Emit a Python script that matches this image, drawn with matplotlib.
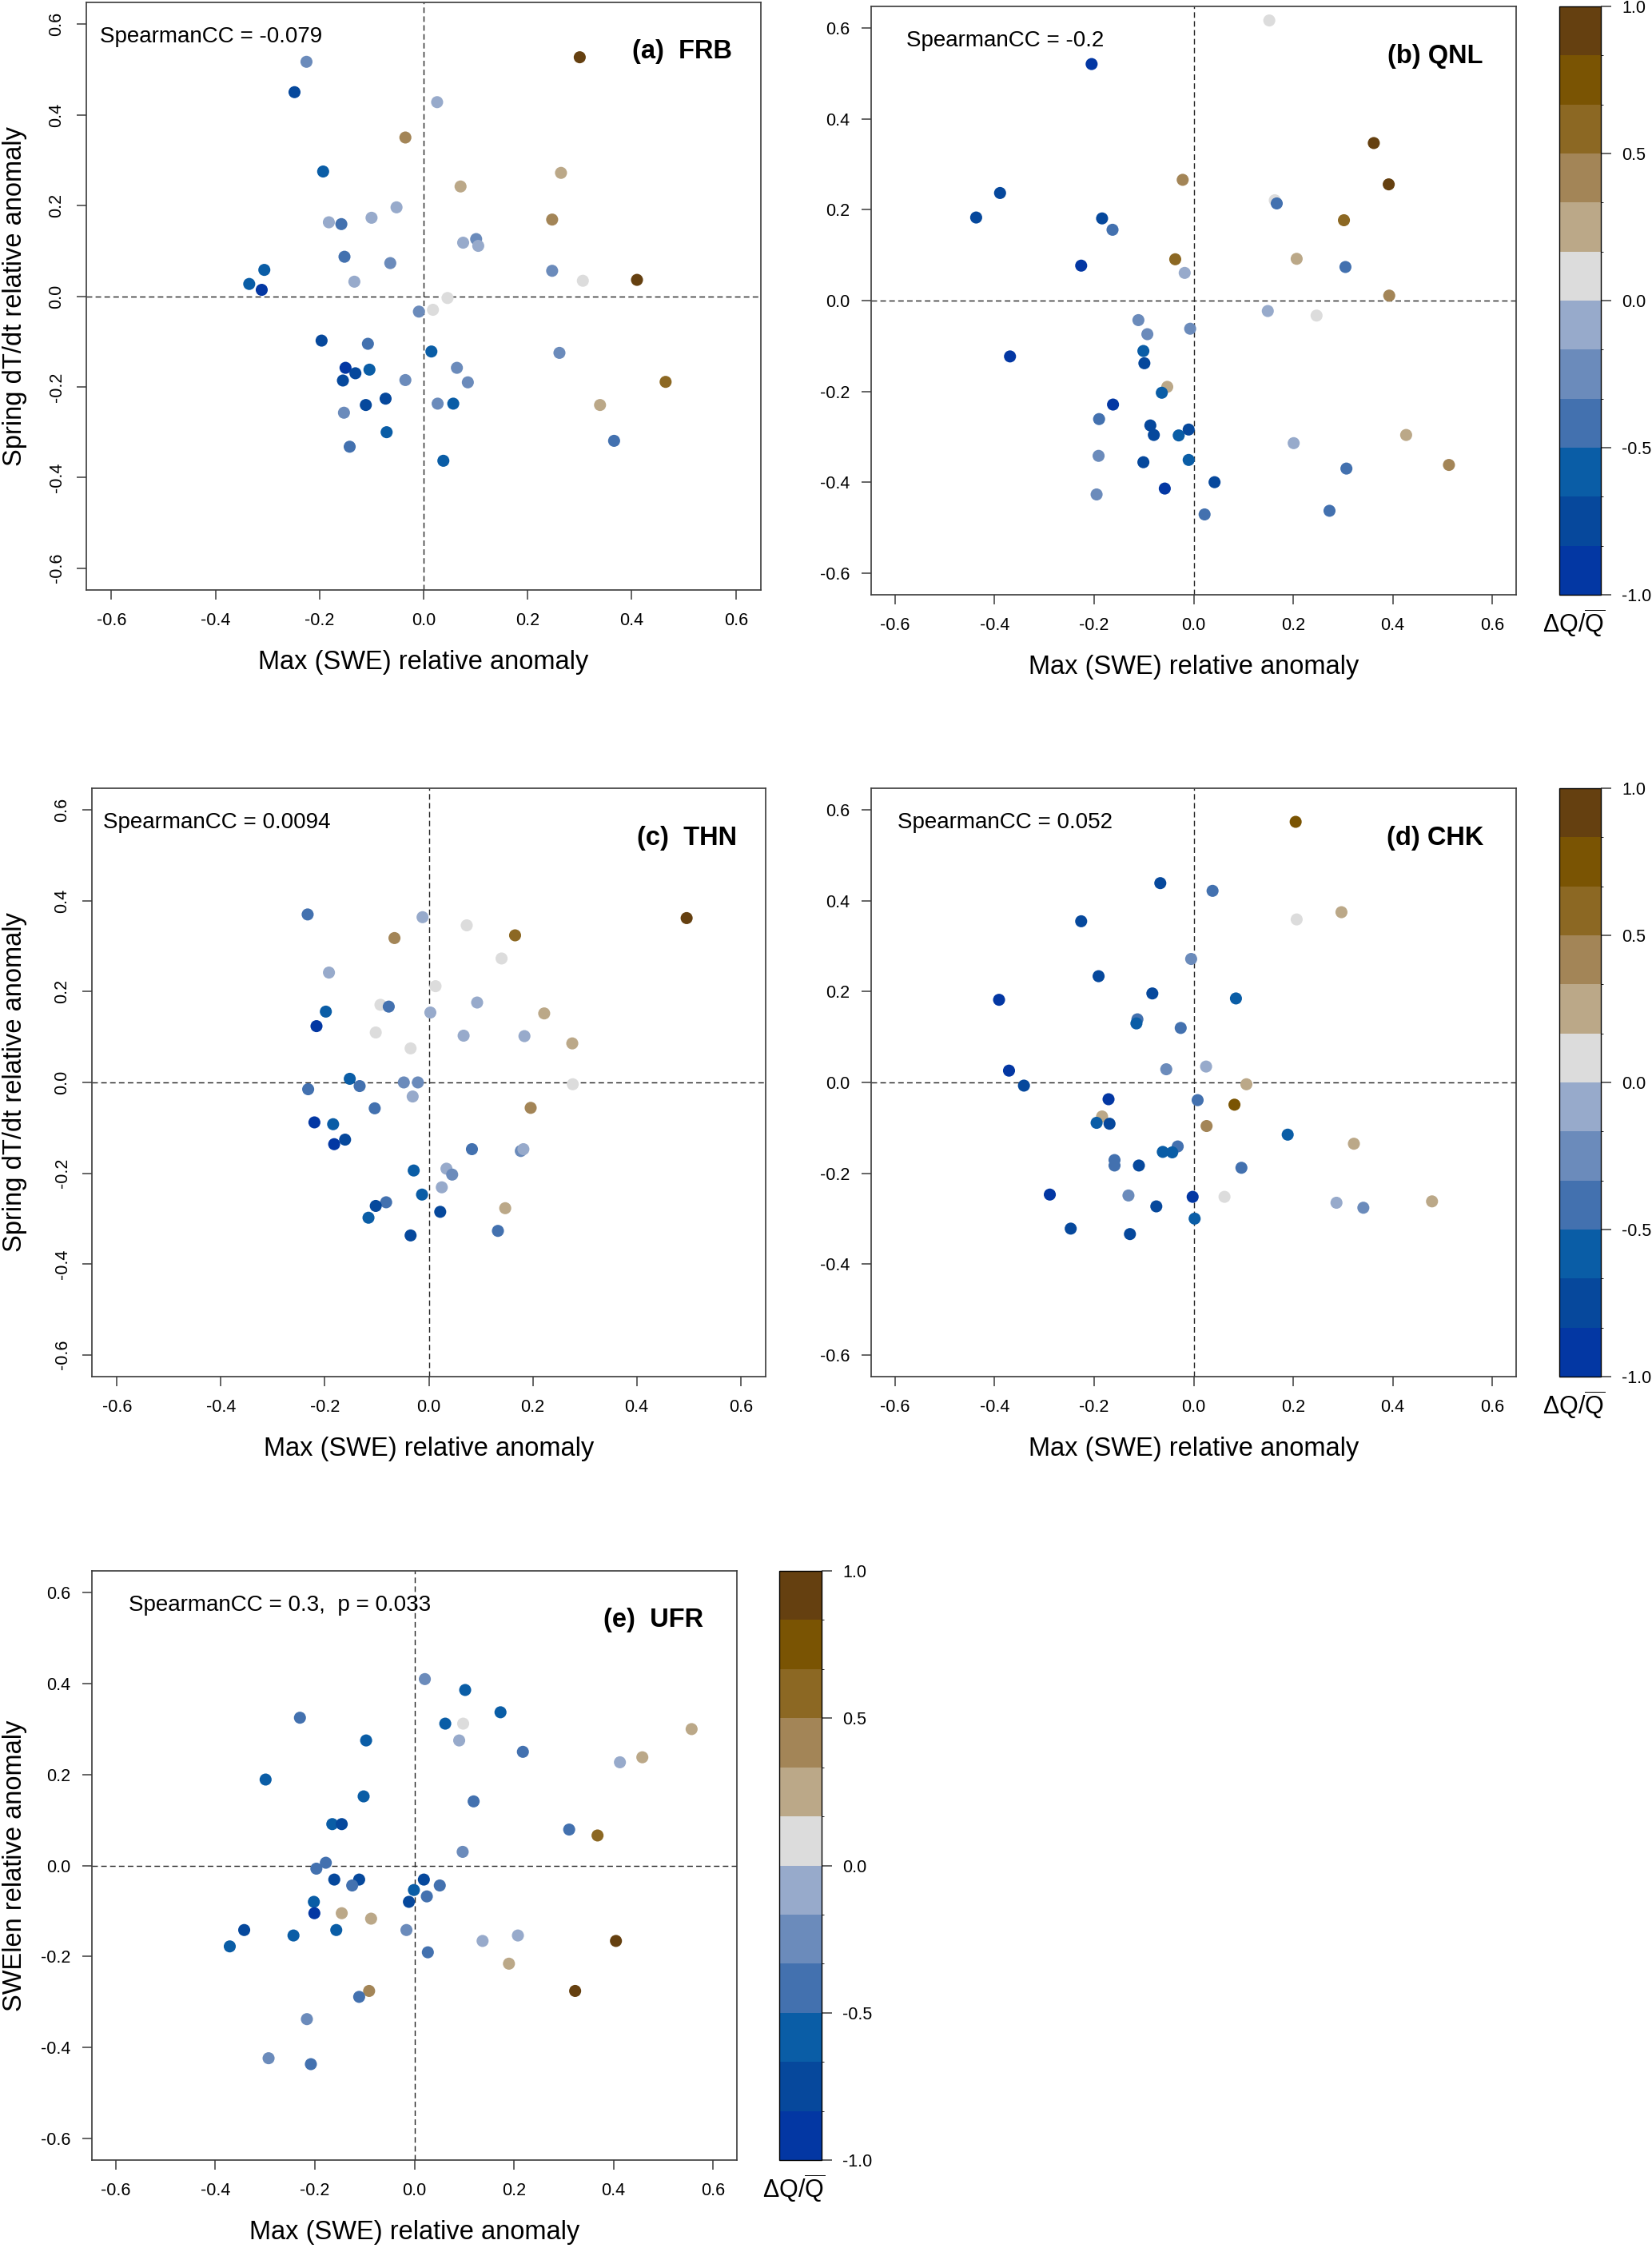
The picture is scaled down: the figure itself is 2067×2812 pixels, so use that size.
import numpy as np
import matplotlib
matplotlib.use('Agg')
import matplotlib.pyplot as plt
from matplotlib.colors import ListedColormap, BoundaryNorm
from matplotlib.cm import ScalarMappable

plt.rcParams['font.family'] = ['Liberation Sans', 'DejaVu Sans']
plt.rcParams['mathtext.fontset'] = 'custom'
plt.rcParams['mathtext.rm'] = 'Liberation Sans'
plt.rcParams['mathtext.it'] = 'Liberation Sans:italic'

# ---- colour scale (12 classes, -1 .. 1) ----
cb_colors = ['#0337A3', '#06489C', '#0A5DA6', '#4371AF', '#6B8BBB', '#97AACB',
             '#DCDCDC', '#BBA888', '#A38557', '#8C6823', '#7A5403', '#654010']
cb_bounds = np.linspace(-1, 1, 13)
cb_ticks = [-1.0, -0.5, 0.0, 0.5, 1.0]
cb_ticklabels = ['-1.0', '-0.5', '0.0', '0.5', '1.0']
axis_ticks = [-0.6, -0.4, -0.2, 0.0, 0.2, 0.4, 0.6]
axis_ticklabels = ['-0.6', '-0.4', '-0.2', '0.0', '0.2', '0.4', '0.6']

# ---- (a) FRB ----
swe_a = [-0.225, -0.248, 0.300, 0.026, -0.035, -0.193, 0.264, 0.071, -0.052, -0.182,
         -0.158, -0.100, 0.247, 0.076, 0.101, 0.105, -0.152, -0.064, -0.306, -0.335,
         -0.311, -0.133, 0.247, 0.306, 0.410, 0.046, 0.018, -0.009, -0.196, -0.107,
         0.015, 0.261, -0.150, -0.131, -0.104, -0.155, -0.035, 0.064, 0.085, 0.465,
         -0.073, -0.111, 0.027, 0.057, 0.339, -0.153, -0.071, -0.142, 0.366, 0.038]
dtdt_a = [0.517, 0.450, 0.527, 0.428, 0.350, 0.275, 0.272, 0.242, 0.196, 0.163,
          0.159, 0.173, 0.169, 0.118, 0.126, 0.111, 0.087, 0.073, 0.058, 0.027,
          0.014, 0.032, 0.056, 0.034, 0.036, -0.004, -0.030, -0.034, -0.098, -0.105,
          -0.122, -0.125, -0.158, -0.170, -0.162, -0.186, -0.185, -0.158, -0.190, -0.189,
          -0.226, -0.240, -0.237, -0.237, -0.240, -0.257, -0.300, -0.332, -0.319, -0.363]
dq_a = [-0.25, -0.75, 0.92, -0.08, 0.42, -0.58, 0.25, 0.25, -0.08, -0.08,
        -0.42, -0.08, 0.42, -0.08, -0.25, -0.08, -0.42, -0.25, -0.58, -0.58,
        -0.92, -0.08, -0.25, 0.08, 0.92, 0.08, 0.08, -0.25, -0.75, -0.42,
        -0.58, -0.25, -0.92, -0.75, -0.58, -0.75, -0.25, -0.25, -0.25, 0.58,
        -0.75, -0.75, -0.25, -0.58, 0.25, -0.25, -0.58, -0.42, -0.42, -0.58]

# ---- (b) QNL ----
swe_b = [0.152, -0.205, 0.362, 0.392, -0.022, -0.389, -0.437, -0.184, -0.163, 0.163,
         0.167, 0.302, -0.226, -0.037, -0.018, 0.207, 0.305, 0.393, 0.149, 0.247,
         -0.111, -0.093, -0.007, -0.369, -0.101, -0.099, -0.053, -0.064, -0.162, -0.190,
         -0.087, -0.080, -0.030, -0.010, 0.201, 0.427, -0.191, -0.101, -0.010, 0.307,
         0.513, 0.042, -0.058, -0.195, 0.022, 0.273]
dtdt_b = [0.617, 0.521, 0.347, 0.256, 0.266, 0.237, 0.183, 0.181, 0.156, 0.221,
          0.214, 0.177, 0.077, 0.091, 0.061, 0.092, 0.074, 0.011, -0.023, -0.033,
          -0.043, -0.074, -0.062, -0.123, -0.111, -0.138, -0.190, -0.203, -0.229, -0.261,
          -0.275, -0.296, -0.297, -0.284, -0.314, -0.296, -0.342, -0.356, -0.351, -0.370,
          -0.362, -0.400, -0.414, -0.427, -0.471, -0.463]
dq_b = [0.08, -0.92, 0.92, 0.92, 0.42, -0.75, -0.75, -0.75, -0.42, 0.08,
        -0.42, 0.58, -0.92, 0.58, -0.08, 0.25, -0.42, 0.42, -0.08, 0.08,
        -0.25, -0.25, -0.25, -0.92, -0.58, -0.75, 0.25, -0.58, -0.92, -0.42,
        -0.75, -0.75, -0.58, -0.75, -0.08, 0.25, -0.25, -0.75, -0.58, -0.42,
        0.42, -0.75, -0.92, -0.25, -0.42, -0.42]

# ---- (c) THN ----
swe_c = [-0.233, -0.012, 0.073, -0.066, 0.166, 0.496, 0.140, -0.192, 0.013, -0.093,
         -0.077, 0.093, 0.003, -0.198, -0.216, 0.222, -0.102, 0.067, 0.184, 0.276,
         -0.035, -0.152, -0.133, -0.232, -0.048, -0.021, -0.031, 0.277, -0.104, 0.196,
         -0.220, -0.184, -0.161, -0.182, 0.083, 0.177, 0.182, -0.029, 0.034, 0.045,
         0.025, -0.013, -0.082, -0.102, -0.116, 0.022, 0.147, -0.035, 0.133]
dtdt_c = [0.370, 0.364, 0.346, 0.318, 0.324, 0.362, 0.273, 0.242, 0.212, 0.171,
          0.167, 0.176, 0.154, 0.156, 0.124, 0.152, 0.110, 0.103, 0.102, 0.086,
          0.075, 0.008, -0.008, -0.015, 0.000, 0.000, -0.031, -0.004, -0.057, -0.056,
          -0.088, -0.092, -0.126, -0.136, -0.147, -0.151, -0.147, -0.194, -0.190, -0.203,
          -0.231, -0.247, -0.264, -0.272, -0.298, -0.285, -0.277, -0.337, -0.327]
dq_c = [-0.42, -0.08, 0.08, 0.42, 0.58, 0.92, 0.08, -0.08, 0.08, 0.08,
        -0.42, -0.08, -0.08, -0.58, -0.92, 0.25, 0.08, -0.08, -0.08, 0.25,
        0.08, -0.58, -0.42, -0.42, -0.25, -0.25, -0.08, 0.08, -0.42, 0.42,
        -0.92, -0.58, -0.75, -0.92, -0.42, -0.25, -0.08, -0.58, -0.08, -0.25,
        -0.08, -0.58, -0.42, -0.75, -0.58, -0.75, 0.25, -0.75, -0.42]

# ---- (d) CHK ----
swe_d = [0.205, -0.067, 0.038, -0.226, 0.297, 0.207, -0.005, -0.191, -0.391, -0.083,
         0.085, -0.113, -0.115, -0.026, -0.055, 0.025, -0.371, -0.341, 0.106, -0.171,
         0.008, 0.082, -0.184, -0.195, -0.169, 0.026, 0.189, 0.322, -0.032, -0.062,
         -0.043, -0.159, -0.159, -0.110, 0.096, -0.289, -0.131, -0.002, 0.062, -0.075,
         0.287, 0.341, 0.479, 0.002, -0.247, -0.128]
dtdt_d = [0.574, 0.439, 0.422, 0.355, 0.375, 0.359, 0.272, 0.234, 0.182, 0.196,
          0.185, 0.139, 0.130, 0.120, 0.029, 0.035, 0.026, -0.007, -0.004, -0.037,
          -0.039, -0.049, -0.075, -0.089, -0.091, -0.096, -0.115, -0.135, -0.141, -0.153,
          -0.154, -0.171, -0.183, -0.183, -0.188, -0.247, -0.249, -0.252, -0.252, -0.273,
          -0.265, -0.276, -0.262, -0.300, -0.322, -0.334]
dq_d = [0.75, -0.75, -0.42, -0.75, 0.25, 0.08, -0.25, -0.75, -0.92, -0.75,
        -0.58, -0.42, -0.58, -0.42, -0.25, -0.08, -0.92, -0.75, 0.25, -0.92,
        -0.42, 0.75, 0.25, -0.58, -0.75, 0.42, -0.58, 0.25, -0.42, -0.58,
        -0.58, -0.42, -0.42, -0.75, -0.42, -0.92, -0.25, -0.92, 0.08, -0.75,
        -0.08, -0.25, 0.25, -0.58, -0.75, -0.75]

# ---- (e) UFR ----
swe_e = [0.021, 0.102, -0.230, 0.173, 0.062, 0.098, -0.097, 0.090, 0.557, 0.218,
         0.458, 0.413, -0.299, -0.102, 0.119, -0.165, -0.146, 0.311, 0.368, 0.097,
         -0.178, -0.197, -0.161, -0.111, -0.125, 0.019, 0.051, -0.001, 0.025, -0.011,
         -0.202, -0.201, -0.146, -0.087, -0.342, -0.157, -0.016, -0.243, -0.371, 0.137,
         0.208, 0.405, 0.027, 0.190, -0.091, -0.111, 0.323, -0.216, -0.293, -0.208]
swelen_e = [0.410, 0.386, 0.325, 0.337, 0.312, 0.312, 0.275, 0.275, 0.300, 0.250,
            0.238, 0.227, 0.189, 0.152, 0.141, 0.091, 0.091, 0.079, 0.066, 0.030,
            0.006, -0.007, -0.031, -0.031, -0.044, -0.031, -0.044, -0.054, -0.068, -0.080,
            -0.080, -0.105, -0.105, -0.117, -0.142, -0.142, -0.142, -0.154, -0.178, -0.166,
            -0.154, -0.166, -0.191, -0.216, -0.276, -0.289, -0.276, -0.338, -0.424, -0.437]
dq_e = [-0.25, -0.58, -0.42, -0.58, -0.58, 0.08, -0.58, -0.08, 0.25, -0.42,
        0.25, -0.08, -0.58, -0.58, -0.42, -0.58, -0.75, -0.42, 0.58, -0.25,
        -0.42, -0.42, -0.75, -0.75, -0.42, -0.75, -0.42, -0.58, -0.42, -0.75,
        -0.58, -0.92, 0.25, 0.25, -0.75, -0.58, -0.25, -0.58, -0.58, -0.08,
        -0.08, 0.92, -0.42, 0.25, 0.42, -0.42, 0.92, -0.25, -0.25, -0.42]

W, H = 2067, 2812
fig = plt.figure(figsize=(W / 100, H / 100), dpi=100)
cmap = ListedColormap(cb_colors)
norm = BoundaryNorm(cb_bounds, cmap.N)
spine_col = '#3a3a3a'


def rect(l, r, t, b):
    return [l / W, 1 - b / H, (r - l) / W, (b - t) / H]


def panel(box, x, y, c, ylabel, rot_ticks, title, title_dx, note, note_dx):
    l, r, t, b = box
    w, h = r - l, b - t
    ax = fig.add_axes(rect(l, r, t, b))
    ax.axhline(0, color='#222222', lw=1.0, ls=(0, (5, 3)), zorder=1)
    ax.axvline(0, color='#222222', lw=1.0, ls=(0, (5, 3)), zorder=1)
    ax.scatter(x, y, c=c, cmap=cmap, norm=norm, s=118, linewidths=0, zorder=3)
    ax.set_xlim(-0.648, 0.648)
    ax.set_ylim(-0.648, 0.648)
    ax.set_xticks(axis_ticks)
    ax.set_xticklabels(axis_ticklabels)
    ax.set_yticks(axis_ticks)
    if rot_ticks:
        ax.set_yticklabels(axis_ticklabels, rotation=90, va='center')
        ax.tick_params(axis='y', pad=10.5)
    else:
        ax.set_yticklabels(axis_ticklabels)
        ax.tick_params(axis='y', pad=11)
    ax.tick_params(axis='both', direction='out', length=8.5, width=1.1,
                   color=spine_col, labelsize=15.5)
    ax.tick_params(axis='x', pad=12)
    for s in ax.spines.values():
        s.set_color(spine_col)
        s.set_linewidth(1.2)
    ax.set_xlabel('Max (SWE) relative anomaly', fontsize=23.5, va='center')
    ax.xaxis.set_label_coords(0.5, -91 / h)
    if ylabel:
        ax.set_ylabel(ylabel, fontsize=23.5, va='center')
        ax.yaxis.set_label_coords(-(l - 19) / w, 0.5)
    ax.text(1 - title_dx / w, 1 - 62 / h, title, transform=ax.transAxes,
            ha='right', va='center', fontsize=23.5, fontweight='bold')
    ax.text(note_dx / w, 1 - 43 / h, note, transform=ax.transAxes,
            ha='left', va='center', fontsize=20)
    return ax


def colorbar(box):
    cax = fig.add_axes(rect(*box))
    sm = ScalarMappable(norm=norm, cmap=cmap)
    cb = fig.colorbar(sm, cax=cax, boundaries=cb_bounds, ticks=cb_ticks)
    cb.ax.set_yticklabels(cb_ticklabels)
    cb.outline.set_edgecolor('black')
    cb.outline.set_linewidth(1.0)
    cb.ax.tick_params(direction='out', length=9, width=1.1, color=spine_col,
                      labelsize=15.5, pad=10)
    l, r, t, b = box
    fig.text(((l + r) / 2 - 8) / W, 1 - (b + 36) / H,
             r'$\Delta\mathrm{Q}/\overline{\mathrm{Q}}$',
             ha='center', va='center', fontsize=22)


ylab_dt = 'Spring dT/dt relative anomaly'
panel((108, 952, 3, 738), swe_a, dtdt_a, dq_a, ylab_dt, True,
      '(a)  FRB', 36, 'SpearmanCC = -0.079', 17)
panel((1090, 1897, 8, 744), swe_b, dtdt_b, dq_b, None, False,
      '(b) QNL', 42, 'SpearmanCC = -0.2', 44)
colorbar((1951, 2003, 8, 744))
panel((115, 958, 986, 1722), swe_c, dtdt_c, dq_c, ylab_dt, True,
      '(c)  THN', 36, 'SpearmanCC = 0.0094', 14)
panel((1090, 1897, 986, 1722), swe_d, dtdt_d, dq_d, None, False,
      '(d) CHK', 41, 'SpearmanCC = 0.052', 33)
colorbar((1951, 2003, 986, 1722))
panel((115, 922, 1965, 2702), swe_e, swelen_e, dq_e, 'SWElen relative anomaly', False,
      '(e)  UFR', 42, 'SpearmanCC = 0.3,  p = 0.033', 46)
colorbar((975, 1028, 1965, 2702))

fig.savefig('out.png', dpi=100, facecolor='white')
